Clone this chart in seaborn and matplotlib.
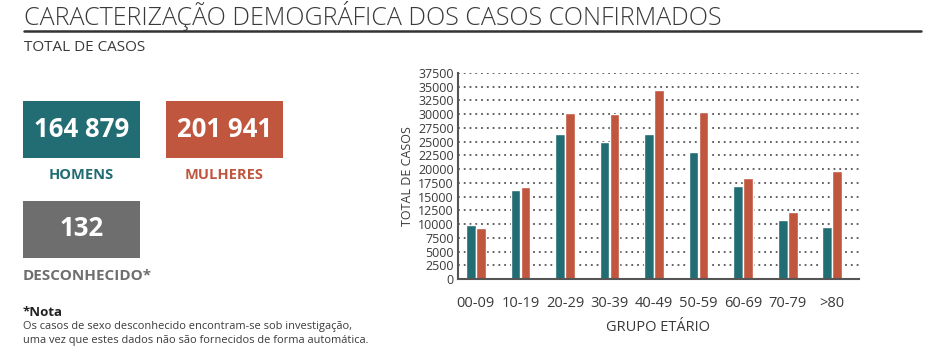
import pandas as pd
import matplotlib
matplotlib.use("Agg")
import matplotlib.pyplot as plt
from matplotlib.patches import Rectangle
import seaborn as sns

# Data
age_groups = ["00-09", "10-19", "20-29", "30-39", "40-49", "50-59", "60-69", "70-79", ">80"]
homens = [9800, 16250, 26450, 25000, 26450, 23200, 17000, 10750, 9450]
mulheres = [9350, 16700, 30300, 30050, 34450, 30450, 18400, 12200, 19700]
y_ticks = list(range(0, 37501, 2500))

totals = [164879, 201941, 132]
total_labels = ["HOMENS", "MULHERES", "DESCONHECIDO*"]

TEAL = "#226c74"
ORANGE = "#c1563f"
GRAY = "#6e6e6e"
TEXT = "#3a3a3a"

df = pd.DataFrame({
    "grupo": age_groups * 2,
    "casos": homens + mulheres,
    "sexo": ["Homens"] * len(age_groups) + ["Mulheres"] * len(age_groups),
})

sns.set_style("white")
plt.rcParams["font.family"] = ["Open Sans", "DejaVu Sans"]

fig = plt.figure(figsize=(9.49, 3.58), dpi=100)
W, H = 949, 358

# Header
fig.text(0.025, 0.997, "CARACTERIZAÇÃO DEMOGRÁFICA DOS CASOS CONFIRMADOS",
         fontsize=18, color=TEXT, ha="left", va="top", fontweight="light")
fig.add_artist(plt.Line2D([0.025, 0.97], [0.913, 0.913], color="#333333", lw=1.8))
fig.text(0.025, 0.866, "TOTAL DE CASOS", fontsize=11, color=TEXT, ha="left", va="center")

# Summary boxes
box_pos = [(23, 101), (166, 101), (23, 201)]
box_colors = [TEAL, ORANGE, GRAY]
label_colors = [TEAL, ORANGE, GRAY]
for (px, py), val, lab, bc, lc in zip(box_pos, totals, total_labels, box_colors, label_colors):
    x0, y0 = px / W, (H - py - 57) / H
    fig.add_artist(Rectangle((x0, y0), 117 / W, 57 / H, transform=fig.transFigure,
                             facecolor=bc, edgecolor="none"))
    txt = f"{val:,}".replace(",", " ")
    fig.text(x0 + 58.5 / W, y0 + 29 / H, txt, fontsize=18.5, fontweight="bold",
             color="white", ha="center", va="center")
    if lab == "DESCONHECIDO*":
        fig.text(x0, y0 - 18 / H, lab, fontsize=11, fontweight="bold",
                 color=lc, ha="left", va="center")
    else:
        fig.text(x0 + 58.5 / W, y0 - 17 / H, lab, fontsize=10.5, fontweight="bold",
                 color=lc, ha="center", va="center")

fig.text(0.024, 1 - 312 / H, "*Nota", fontsize=9.5, fontweight="bold", color="#222222",
         ha="left", va="center")
fig.text(0.024, 1 - 327 / H, "Os casos de sexo desconhecido encontram-se sob investigação,",
         fontsize=7.95, color=TEXT, ha="left", va="center")
fig.text(0.024, 1 - 341 / H, "uma vez que estes dados não são fornecidos de forma automática.",
         fontsize=7.95, color=TEXT, ha="left", va="center")

# Bar chart
ax = fig.add_axes([458 / W, 79 / H, 401 / W, 206 / H])
sns.barplot(data=df, x="grupo", y="casos", hue="sexo", palette=[TEAL, ORANGE],
            width=0.45, gap=0.04, ax=ax, legend=False, saturation=1)
ax.set_ylim(0, 37500)
ax.set_xlim(-0.4, len(age_groups) - 0.4)
ax.set_yticks(y_ticks)
ax.set_yticklabels([str(t) for t in y_ticks], fontsize=9, color=TEXT)
ax.tick_params(axis="x", labelsize=10.5, colors=TEXT, pad=12)
ax.tick_params(axis="y", pad=3, length=0)
ax.tick_params(axis="x", length=0)
ax.set_axisbelow(True)
ax.yaxis.grid(True, linestyle=(0, (1, 2.2)), color="#555555", linewidth=1.3)
ax.xaxis.grid(False)
for s in ["top", "right"]:
    ax.spines[s].set_visible(False)
for s in ["left", "bottom"]:
    ax.spines[s].set_color("#555555")
    ax.spines[s].set_linewidth(1.5)
ax.set_xlabel("GRUPO ETÁRIO", fontsize=10.5, color=TEXT, labelpad=7)
ax.set_ylabel("TOTAL DE CASOS", fontsize=9, color=TEXT, labelpad=3)

fig.savefig("out.png", dpi=100)
